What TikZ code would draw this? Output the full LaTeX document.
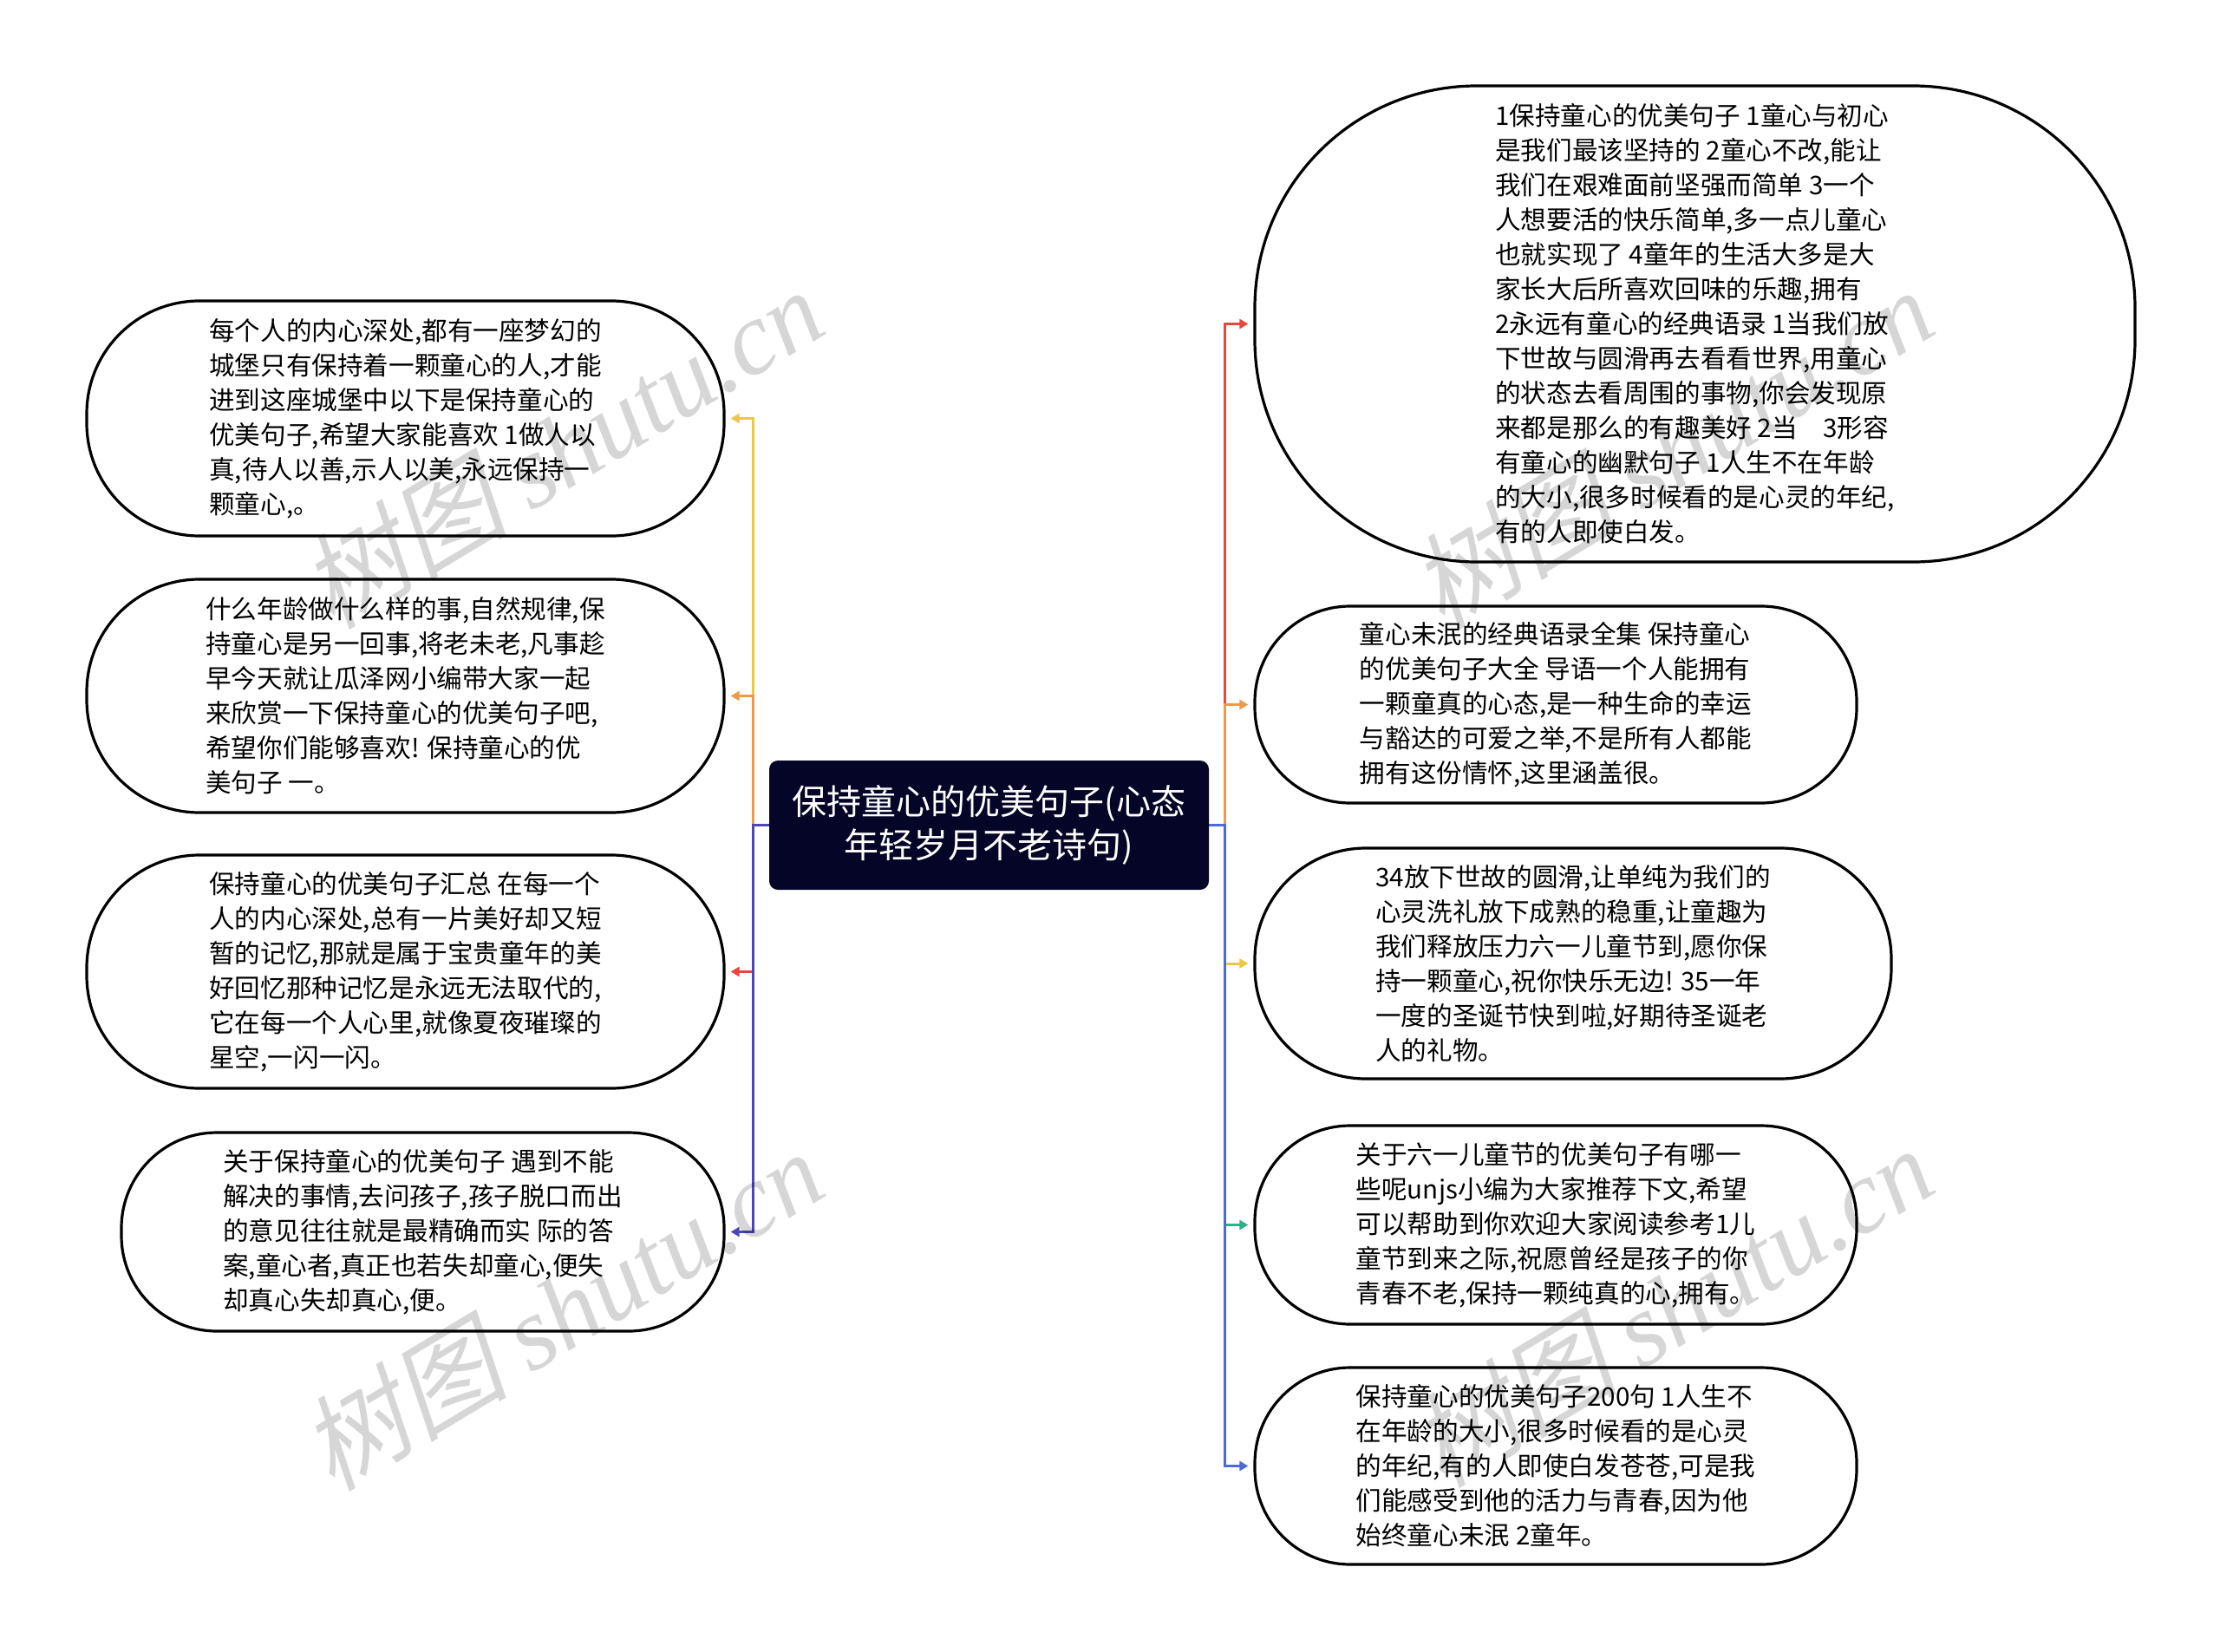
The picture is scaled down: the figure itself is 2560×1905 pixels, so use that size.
\documentclass[tikz,border=0pt]{standalone}
\usepackage{fontspec}
\setmainfont{Noto Sans CJK SC}
\newfontfamily\wmcjk{Noto Sans CJK SC}[FakeSlant=0.22]
\newfontfamily\wmlat{Liberation Serif}
\usetikzlibrary{arrows.meta}
\definecolor{rootc}{HTML}{050527}
\definecolor{cy}{HTML}{EEC643}
\definecolor{co}{HTML}{EC9A4E}
\definecolor{cr}{HTML}{E5483F}
\definecolor{cbl}{HTML}{4B48B5}
\definecolor{cg}{HTML}{2FAE8A}
\definecolor{cbr}{HTML}{4C6BD5}
\begin{document}
\begin{tikzpicture}[x=0.5pt,y=-0.5pt,
  leaf/.style={draw=black, line width=1.6pt, fill=white, align=left,
    font=\fontsize{14.8pt}{20pt}\selectfont, inner sep=0pt},
  rootbox/.style={fill=rootc, rounded corners=5pt, text=white, align=center,
    font=\fontsize{20pt}{25pt}\selectfont, minimum width=253.5pt, minimum height=74.5pt, inner sep=0pt},
  conn/.style={line width=1.5pt, -{Triangle[length=5pt,width=5.5pt]}, shorten >=3pt},
  wm/.style={text=black, opacity=0.16, rotate=31, inner sep=0pt}]
\useasboundingbox (0,0) rectangle (2560,1905);
\fill[white] (0,0) rectangle (2560,1905);

\node[rootbox] (root) at (1140.5,951.5) {保持童心的优美句子(心态\\年轻岁月不老诗句)};

\node[leaf, minimum width=367.5pt, minimum height=135.5pt, rounded corners=65pt] (L1) at (467.5,482.5)
{每个人的内心深处,都有一座梦幻的\\城堡只有保持着一颗童心的人,才能\\进到这座城堡中以下是保持童心的\\优美句子,希望大家能喜欢 1做人以\\真,待人以善,示人以美,永远保持一\\颗童心,。};
\node[leaf, minimum width=367.5pt, minimum height=134.5pt, rounded corners=65pt] (L2) at (467.5,802.5)
{什么年龄做什么样的事,自然规律,保\\持童心是另一回事,将老未老,凡事趁\\早今天就让瓜泽网小编带大家一起\\来欣赏一下保持童心的优美句子吧,\\希望你们能够喜欢! 保持童心的优\\美句子 一。};
\node[leaf, minimum width=367.5pt, minimum height=134.5pt, rounded corners=65pt] (L3) at (467.5,1120.5)
{保持童心的优美句子汇总 在每一个\\人的内心深处,总有一片美好却又短\\暂的记忆,那就是属于宝贵童年的美\\好回忆那种记忆是永远无法取代的,\\它在每一个人心里,就像夏夜璀璨的\\星空,一闪一闪。};
\node[leaf, minimum width=347.5pt, minimum height=114.5pt, rounded corners=55pt] (L4) at (487.5,1420.5)
{关于保持童心的优美句子 遇到不能\\解决的事情,去问孩子,孩子脱口而出\\的意见往往就是最精确而实 际的答\\案,童心者,真正也若失却童心,便失\\却真心失却真心,便。};

\node[leaf, minimum width=507.5pt, minimum height=274.5pt, rounded corners=128pt] (R1) at (1954.5,373.5)
{1保持童心的优美句子 1童心与初心\\是我们最该坚持的 2童心不改,能让\\我们在艰难面前坚强而简单 3一个\\人想要活的快乐简单,多一点儿童心\\也就实现了 4童年的生活大多是大\\家长大后所喜欢回味的乐趣,拥有\\2永远有童心的经典语录 1当我们放\\下世故与圆滑再去看看世界,用童心\\的状态去看周围的事物,你会发现原\\来都是那么的有趣美好 2当　3形容\\有童心的幽默句子 1人生不在年龄\\的大小,很多时候看的是心灵的年纪,\\有的人即使白发。};
\node[leaf, minimum width=347pt, minimum height=113.5pt, rounded corners=55pt] (R2) at (1794,812.5)
{童心未泯的经典语录全集 保持童心\\的优美句子大全 导语一个人能拥有\\一颗童真的心态,是一种生命的幸运\\与豁达的可爱之举,不是所有人都能\\拥有这份情怀,这里涵盖很。};
\node[leaf, minimum width=367pt, minimum height=133pt, rounded corners=64pt] (R3) at (1814,1111)
{34放下世故的圆滑,让单纯为我们的\\心灵洗礼放下成熟的稳重,让童趣为\\我们释放压力六一儿童节到,愿你保\\持一颗童心,祝你快乐无边! 35一年\\一度的圣诞节快到啦,好期待圣诞老\\人的礼物。};
\node[leaf, minimum width=347pt, minimum height=114.5pt, rounded corners=55pt] (R4) at (1794,1412.5)
{关于六一儿童节的优美句子有哪一\\些呢unjs小编为大家推荐下文,希望\\可以帮助到你欢迎大家阅读参考1儿\\童节到来之际,祝愿曾经是孩子的你\\青春不老,保持一颗纯真的心,拥有。};
\node[leaf, minimum width=347pt, minimum height=113.5pt, rounded corners=55pt] (R5) at (1794,1690.5)
{保持童心的优美句子200句 1人生不\\在年龄的大小,很多时候看的是心灵\\的年纪,有的人即使白发苍苍,可是我\\们能感受到他的活力与青春,因为他\\始终童心未泯 2童年。};

\draw[conn, cy] (root.west) -- ++(-9pt,0) |- (L1.east);
\draw[conn, co] (root.west) -- ++(-9pt,0) |- (L2.east);
\draw[conn, cr] (root.west) -- ++(-9pt,0) |- (L3.east);
\draw[conn, cbl] (root.west) -- ++(-9pt,0) |- (L4.east);

\draw[conn, cr] (root.east) -- ++(9pt,0) |- (R1.west);
\draw[conn, co] (root.east) -- ++(9pt,0) |- (R2.west);
\draw[conn, cy] (root.east) -- ++(9pt,0) |- (R3.west);
\draw[conn, cg] (root.east) -- ++(9pt,0) |- (R4.west);
\draw[conn, cbr] (root.east) -- ++(9pt,0) |- (R5.west);

\node[wm] (w1) at (647,516) {\fontsize{60pt}{60pt}\wmcjk 树图 \wmlat\itshape shutu.cn};
\node[wm] (w2) at (647,1510) {\fontsize{60pt}{60pt}\wmcjk 树图 \wmlat\itshape shutu.cn};
\node[wm] (w3) at (1927,516) {\fontsize{60pt}{60pt}\wmcjk 树图 \wmlat\itshape shutu.cn};
\node[wm] (w4) at (1927,1506) {\fontsize{60pt}{60pt}\wmcjk 树图 \wmlat\itshape shutu.cn};
\end{tikzpicture}
\end{document}
